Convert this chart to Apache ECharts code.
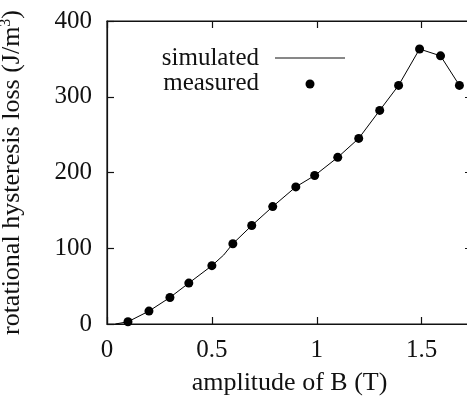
<!DOCTYPE html>
<html>
<head>
<meta charset="utf-8">
<script src="https://cdn.jsdelivr.net/npm/echarts@6/dist/echarts.min.js"></script>
<style>html,body{margin:0;padding:0;background:#fff;}#chart{width:467px;height:401px;}</style>
</head>
<body>
<div id="chart"></div>
<script>
// Data
var measuredB = [0.10, 0.20, 0.30, 0.39, 0.50, 0.60, 0.69, 0.79, 0.90, 0.99, 1.10, 1.20, 1.30, 1.39, 1.49, 1.59, 1.68];
var measuredLoss = [3, 17, 35, 54, 77, 106, 130, 155, 181, 196, 220, 245, 282, 315, 363, 354, 315];
var simulatedB = [0.04, 0.10, 0.20, 0.30, 0.39, 0.50, 0.556, 0.60, 0.69, 0.79, 0.90, 0.99, 1.10, 1.20, 1.30, 1.39, 1.49, 1.59, 1.68];
var simulatedLoss = [0, 3, 17, 35, 54, 77, 91, 106, 130, 155, 181, 196, 220, 245, 282, 315, 363, 354, 315];
var xTicks = [0, 0.5, 1, 1.5];
var yTicks = [0, 100, 200, 300, 400];
var seriesNames = ['simulated', 'measured'];

function pairs(xs, ys) { return xs.map(function (x, i) { return [x, ys[i]]; }); }

var FONT = 'Liberation Serif';
var chart = echarts.init(document.getElementById('chart'), null, {renderer: 'canvas'});
var xLabelFmt = function (v) {
  for (var i = 0; i < xTicks.length; i++) if (Math.abs(v - xTicks[i]) < 1e-9) return String(xTicks[i]);
  return '';
};
var axisLineStyle = {color: '#111', width: 1.2};
chart.setOption({
  animation: false,
  backgroundColor: '#fff',
  grid: {left: 107, top: 21, right: -5, bottom: 77, containLabel: false, outerBoundsMode: 'none',
    show: true, borderColor: '#111', borderWidth: 1.2, backgroundColor: 'transparent'},
  xAxis: [{
    type: 'value', min: 0, max: 1.74, interval: 0.5, position: 'bottom',
    name: 'amplitude of B (T)', nameLocation: 'middle', nameGap: 46,
    nameTextStyle: {fontFamily: FONT, fontSize: 26, color: '#111'},
    axisLine: {show: true, onZero: false, lineStyle: axisLineStyle},
    axisTick: {show: true, inside: true, length: 7, lineStyle: axisLineStyle},
    axisLabel: {fontFamily: FONT, fontSize: 25, color: '#111', margin: 14, formatter: xLabelFmt, showMaxLabel: false},
    splitLine: {show: false}
  }, {
    type: 'value', min: 0, max: 1.74, interval: 0.5, position: 'top',
    axisLine: {show: true, onZero: false, lineStyle: axisLineStyle},
    axisTick: {show: true, inside: true, length: 7, lineStyle: axisLineStyle},
    axisLabel: {show: false}, splitLine: {show: false}
  }],
  yAxis: [{
    type: 'value', min: 0, max: 400, interval: 100, position: 'left',
    name: 'rotational hysteresis loss (J/m{sup|3})', nameLocation: 'middle', nameGap: 81, nameRotate: 90,
    nameTextStyle: {fontFamily: FONT, fontSize: 26, color: '#111',
      rich: {sup: {fontFamily: FONT, fontSize: 16, color: '#111', verticalAlign: 'top', padding: [0, 0, 12, 0]}}},
    axisLine: {show: true, onZero: false, lineStyle: axisLineStyle},
    axisTick: {show: true, inside: true, length: 7, lineStyle: axisLineStyle},
    axisLabel: {fontFamily: FONT, fontSize: 25, color: '#111', margin: 15},
    splitLine: {show: false}
  }, {
    type: 'value', min: 0, max: 400, interval: 100, position: 'right',
    axisLine: {show: true, onZero: false, lineStyle: axisLineStyle},
    axisTick: {show: true, inside: true, length: 7, lineStyle: axisLineStyle},
    axisLabel: {show: false}, splitLine: {show: false}
  }],
  series: [{
    name: seriesNames[0], type: 'line', data: pairs(simulatedB, simulatedLoss),
    showSymbol: false, symbol: 'none', lineStyle: {color: '#000', width: 1, opacity: 1}, z: 2
  }, {
    name: seriesNames[1], type: 'scatter', data: pairs(measuredB, measuredLoss),
    symbol: 'circle', symbolSize: 9, itemStyle: {color: '#000', opacity: 1}, z: 3
  }],
  graphic: [
    {type: 'text', x: 259, y: 58, style: {text: seriesNames[0], font: '25px "Liberation Serif"', fill: '#111', textAlign: 'right', textVerticalAlign: 'middle'}},
    {type: 'text', x: 259, y: 83, style: {text: seriesNames[1], font: '25px "Liberation Serif"', fill: '#111', textAlign: 'right', textVerticalAlign: 'middle'}},
    {type: 'line', shape: {x1: 275, y1: 58, x2: 345, y2: 58}, style: {stroke: '#111', lineWidth: 1}},
    {type: 'circle', shape: {cx: 310, cy: 84, r: 4.5}, style: {fill: '#000'}}
  ]
});
</script>
</body>
</html>
